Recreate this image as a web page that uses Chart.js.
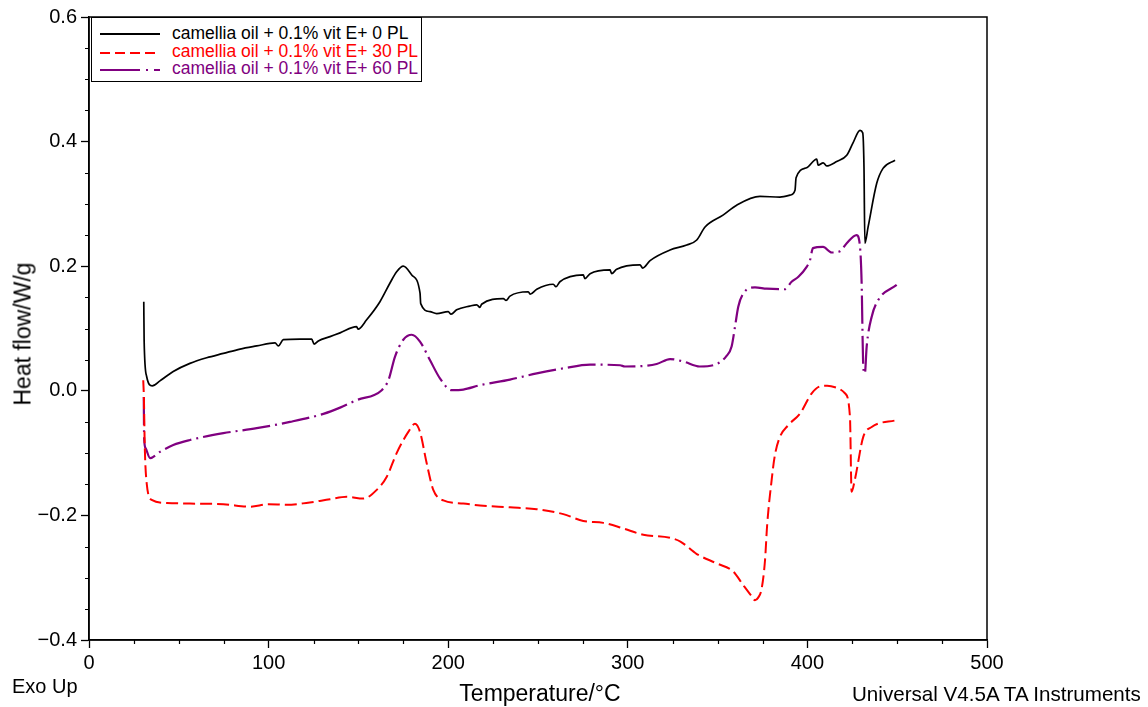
<!DOCTYPE html>
<html>
<head>
<meta charset="utf-8">
<script src="https://cdn.jsdelivr.net/npm/chart.js@4.4.1/dist/chart.umd.min.js"></script>
<style>
  html, body { margin: 0; padding: 0; background: #fff; }
  #wrap { position: relative; width: 1148px; height: 707px; overflow: hidden; font-family: "Liberation Sans", Arial, Helvetica, sans-serif; color: #000; }
  #c { position: absolute; left: 0; top: 0; }
  .txt { position: absolute; white-space: nowrap; line-height: 1; }
  #legend { position: absolute; left: 91px; top: 17px; width: 331px; height: 65px; box-sizing: border-box; border: 1.5px solid #000; background: #fff; }
  #legend svg { position: absolute; left: 0; top: 0; }
  .lg { position: absolute; left: 80px; font-size: 17.5px; line-height: 1; white-space: nowrap; }
</style>
</head>
<body>
<div id="wrap">
  <canvas id="c" width="1148" height="707"></canvas>
  <div id="legend"></div>
  <div class="txt" id="ytitle" style="left:23px; top:334px; font-size:23px; transform: translate(-50%,-50%) rotate(-90deg);">Heat flow/W/g</div>
  <div class="txt" id="xtitle" style="left:540px; top:682px; font-size:23px; transform: translateX(-50%);">Temperature/°C</div>
  <div class="txt" style="left:12px; top:676px; font-size:20px;">Exo Up</div>
  <div class="txt" style="left:852px; top:684px; font-size:20.6px;">Universal V4.5A TA Instruments</div>
</div>
<script>
// ---------------- data ----------------
const seriesLabels = [
  "camellia oil + 0.1% vit E+ 0 PL",
  "camellia oil + 0.1% vit E+ 30 PL",
  "camellia oil + 0.1% vit E+ 60 PL"
];
const seriesColors = ["#000000", "#ff0000", "#800080"];

// 0 PL (black, solid)
const blackT  = [30.5, 30.7, 32.1, 35.2, 39.5, 46.9, 56.2, 65.5, 74.8, 84.1, 93.4, 103.6, 105.4, 108.2, 117.5, 124, 125.3, 127.7, 134.2, 139.8, 149, 149.8, 154.6, 162, 167.6, 171.3, 175, 179.7, 184.3, 184.7, 189.9, 193.6, 200, 201.6, 204.7, 212, 215.9, 217.7, 218.6, 230.7, 232.2, 234.4, 244.6, 245.6, 249.3, 258.5, 260, 262.2, 275.2, 276.1, 279, 290.1, 291, 293.8, 306.8, 308.3, 312.4, 323.5, 332.8, 338.4, 343, 353, 360.6, 373.6, 384.7, 390.3, 393.1, 393.7, 399.6, 405.2, 406, 408.8, 410.7, 416.3, 421.9, 425.4, 429.3, 430.8, 431.5, 432, 433.8, 438.6, 442.1, 448.8];
const blackHF = [0.143, 0.080, 0.023, 0.008, 0.016, 0.031, 0.044, 0.053, 0.060, 0.067, 0.072, 0.077, 0.072, 0.082, 0.083, 0.083, 0.075, 0.080, 0.087, 0.093, 0.103, 0.099, 0.114, 0.143, 0.173, 0.191, 0.200, 0.186, 0.157, 0.140, 0.127, 0.124, 0.127, 0.123, 0.130, 0.136, 0.138, 0.134, 0.139, 0.148, 0.145, 0.152, 0.159, 0.155, 0.163, 0.171, 0.167, 0.175, 0.186, 0.180, 0.188, 0.194, 0.188, 0.195, 0.202, 0.197, 0.209, 0.226, 0.234, 0.242, 0.263, 0.282, 0.298, 0.312, 0.311, 0.314, 0.322, 0.342, 0.358, 0.372, 0.362, 0.366, 0.361, 0.368, 0.378, 0.398, 0.418, 0.414, 0.360, 0.237, 0.263, 0.333, 0.357, 0.370];

// 30 PL (red, dashed)
const redT  = [30.2, 30.6, 31, 32.1, 34.9, 43.3, 56.2, 74.8, 89.6, 100, 110, 121, 134.2, 143.5, 152.7, 160.2, 165.8, 171.3, 177.8, 181.5, 184.3, 188, 191.7, 197.3, 208.4, 217.7, 234.4, 249.3, 264.1, 275.2, 286.4, 297.5, 308.6, 323.5, 329.3, 338.4, 349.5, 358.7, 364.3, 368.5, 370.8, 372.6, 374.5, 376.4, 377.6, 380.1, 381.8, 384.7, 389.4, 396, 402.4, 407, 411, 416.3, 420.9, 423.7, 424.6, 426.4, 431.1, 435.8, 449.7];
const redHF = [0.017, -0.015, -0.084, -0.148, -0.175, -0.180, -0.181, -0.182, -0.186, -0.182, -0.183, -0.180, -0.174, -0.170, -0.173, -0.159, -0.138, -0.100, -0.066, -0.053, -0.066, -0.116, -0.159, -0.176, -0.181, -0.184, -0.187, -0.190, -0.198, -0.209, -0.212, -0.221, -0.231, -0.236, -0.242, -0.262, -0.277, -0.290, -0.312, -0.328, -0.336, -0.332, -0.318, -0.272, -0.215, -0.143, -0.105, -0.074, -0.055, -0.036, -0.004, 0.007, 0.008, 0.005, -0.004, -0.042, -0.162, -0.143, -0.074, -0.058, -0.047];

// 60 PL (purple, dash-dot)
const purpleT  = [30.5, 30.7, 31.5, 34, 39.5, 46.9, 56.2, 74.8, 93.4, 111.9, 130.5, 139.8, 149, 163, 166.7, 170.4, 175, 179.7, 184.3, 189.9, 195.4, 201.9, 208.4, 217.7, 234.4, 249.3, 264.1, 279, 295.7, 298.4, 316.1, 323.5, 330.9, 340.1, 349.5, 355, 357.8, 359.7, 361.5, 364.3, 370.8, 377.3, 387.5, 391.2, 395, 399.6, 401.4, 403.1, 408.7, 413.5, 418.2, 421.9, 427.4, 429.3, 430.2, 431.1, 432, 433, 435.8, 439.5, 449.7];
const purpleHF = [-0.010, -0.076, -0.092, -0.108, -0.098, -0.087, -0.079, -0.068, -0.060, -0.050, -0.037, -0.027, -0.015, 0.001, 0.017, 0.055, 0.082, 0.090, 0.079, 0.049, 0.020, 0.001, 0.002, 0.009, 0.018, 0.028, 0.036, 0.042, 0.041, 0.039, 0.043, 0.051, 0.047, 0.039, 0.043, 0.056, 0.071, 0.103, 0.135, 0.156, 0.166, 0.164, 0.163, 0.175, 0.183, 0.199, 0.209, 0.229, 0.231, 0.222, 0.224, 0.237, 0.250, 0.231, 0.173, 0.039, 0.028, 0.071, 0.119, 0.146, 0.170];

// axes
const xMajorTicks = [0, 100, 200, 300, 400, 500];
const xMinorTicks = [25, 50, 75, 125, 150, 175, 225, 250, 275, 325, 350, 375, 425, 450, 475];
const yMajorTicks = [-0.4, -0.2, 0.0, 0.2, 0.4, 0.6];
const yMinorTicks = [-0.35, -0.3, -0.25, -0.15, -0.1, -0.05, 0.05, 0.1, 0.15, 0.25, 0.3, 0.35, 0.45, 0.5, 0.55];

// ---------------- chart ----------------
const FONT = '"Liberation Sans", Arial, Helvetica, sans-serif';
const dashes = [[], [12, 5], [28, 5, 2, 5]];
const widths = [1.7, 2, 2.2];

function pts(t, v) { return t.map((x, i) => ({ x: x, y: v[i] })); }

const frame = {
  id: 'frame',
  afterDraw(chart) {
    const ctx = chart.ctx, a = chart.chartArea;
    const xs = chart.scales.x, ys = chart.scales.y;
    ctx.save();
    ctx.strokeStyle = '#000';
    ctx.lineWidth = 1.5;
    ctx.strokeRect(a.left, a.top, a.right - a.left, a.bottom - a.top);
    ctx.lineWidth = 1.2;
    ctx.beginPath();
    xMinorTicks.forEach(v => {
      const px = Math.round(xs.getPixelForValue(v)) + 0.5;
      ctx.moveTo(px, a.bottom); ctx.lineTo(px, a.bottom + 4);
    });
    yMinorTicks.forEach(v => {
      const py = Math.round(ys.getPixelForValue(v)) + 0.5;
      ctx.moveTo(a.left, py); ctx.lineTo(a.left - 4, py);
    });
    ctx.stroke();
    ctx.restore();
  }
};

function fmtY(v) {
  if (Math.abs(v) < 1e-9) return '0.0';
  return (v < 0 ? '\u2212' : '') + Math.abs(v).toFixed(1);
}

new Chart(document.getElementById('c'), {
  type: 'line',
  data: {
    datasets: [
      { label: seriesLabels[0], data: pts(blackT, blackHF) },
      { label: seriesLabels[1], data: pts(redT, redHF) },
      { label: seriesLabels[2], data: pts(purpleT, purpleHF) }
    ].map((d, i) => Object.assign(d, {
      borderColor: seriesColors[i],
      backgroundColor: seriesColors[i],
      borderWidth: widths[i],
      borderDash: dashes[i],
      pointRadius: 0,
      fill: false,
      cubicInterpolationMode: 'monotone'
    }))
  },
  options: {
    responsive: false,
    devicePixelRatio: 1,
    animation: false,
    layout: { padding: { left: 0, top: 17, right: 161, bottom: 0 } },
    plugins: { legend: { display: false }, tooltip: { enabled: false } },
    scales: {
      x: {
        type: 'linear', position: 'bottom', min: 0, max: 500,
        afterBuildTicks: s => { s.ticks = xMajorTicks.map(v => ({ value: v })); },
        afterFit: s => { s.height = 67; },
        ticks: { color: '#000', font: { family: FONT, size: 20 }, padding: 3, maxRotation: 0, autoSkip: false },
        grid: { drawOnChartArea: false, drawTicks: true, tickLength: 8, tickColor: '#000', tickWidth: 1.3 },
        border: { display: true, color: '#000', width: 1.5 }
      },
      y: {
        type: 'linear', position: 'left', min: -0.4, max: 0.6,
        afterBuildTicks: s => { s.ticks = yMajorTicks.map(v => ({ value: v })); },
        afterFit: s => { s.width = 89; },
        ticks: { color: '#000', font: { family: FONT, size: 20 }, padding: 4, callback: v => fmtY(v), autoSkip: false },
        grid: { drawOnChartArea: false, drawTicks: true, tickLength: 8, tickColor: '#000', tickWidth: 1.3 },
        border: { display: true, color: '#000', width: 1.5 }
      }
    }
  },
  plugins: [frame]
});

// ---------------- legend (HTML, inside the plot box) ----------------
(function () {
  const lg = document.getElementById('legend');
  const rowsY = [16, 35, 52];
  const textTop = [7, 25, 42];
  const svgNS = 'http://www.w3.org/2000/svg';
  const svg = document.createElementNS(svgNS, 'svg');
  svg.setAttribute('width', '331'); svg.setAttribute('height', '65');
  const dashAttr = ['', '10,5', '40,6,2,6'];
  seriesLabels.forEach((lab, i) => {
    const ln = document.createElementNS(svgNS, 'line');
    ln.setAttribute('x1', '8'); ln.setAttribute('x2', '68');
    ln.setAttribute('y1', rowsY[i]); ln.setAttribute('y2', rowsY[i]);
    ln.setAttribute('stroke', seriesColors[i]);
    ln.setAttribute('stroke-width', '2');
    if (dashAttr[i]) ln.setAttribute('stroke-dasharray', dashAttr[i]);
    svg.appendChild(ln);
    const t = document.createElement('div');
    t.className = 'lg';
    t.style.top = textTop[i] + 'px';
    t.style.color = seriesColors[i];
    t.textContent = lab;
    lg.appendChild(t);
  });
  lg.appendChild(svg);
})();
</script>
</body>
</html>
